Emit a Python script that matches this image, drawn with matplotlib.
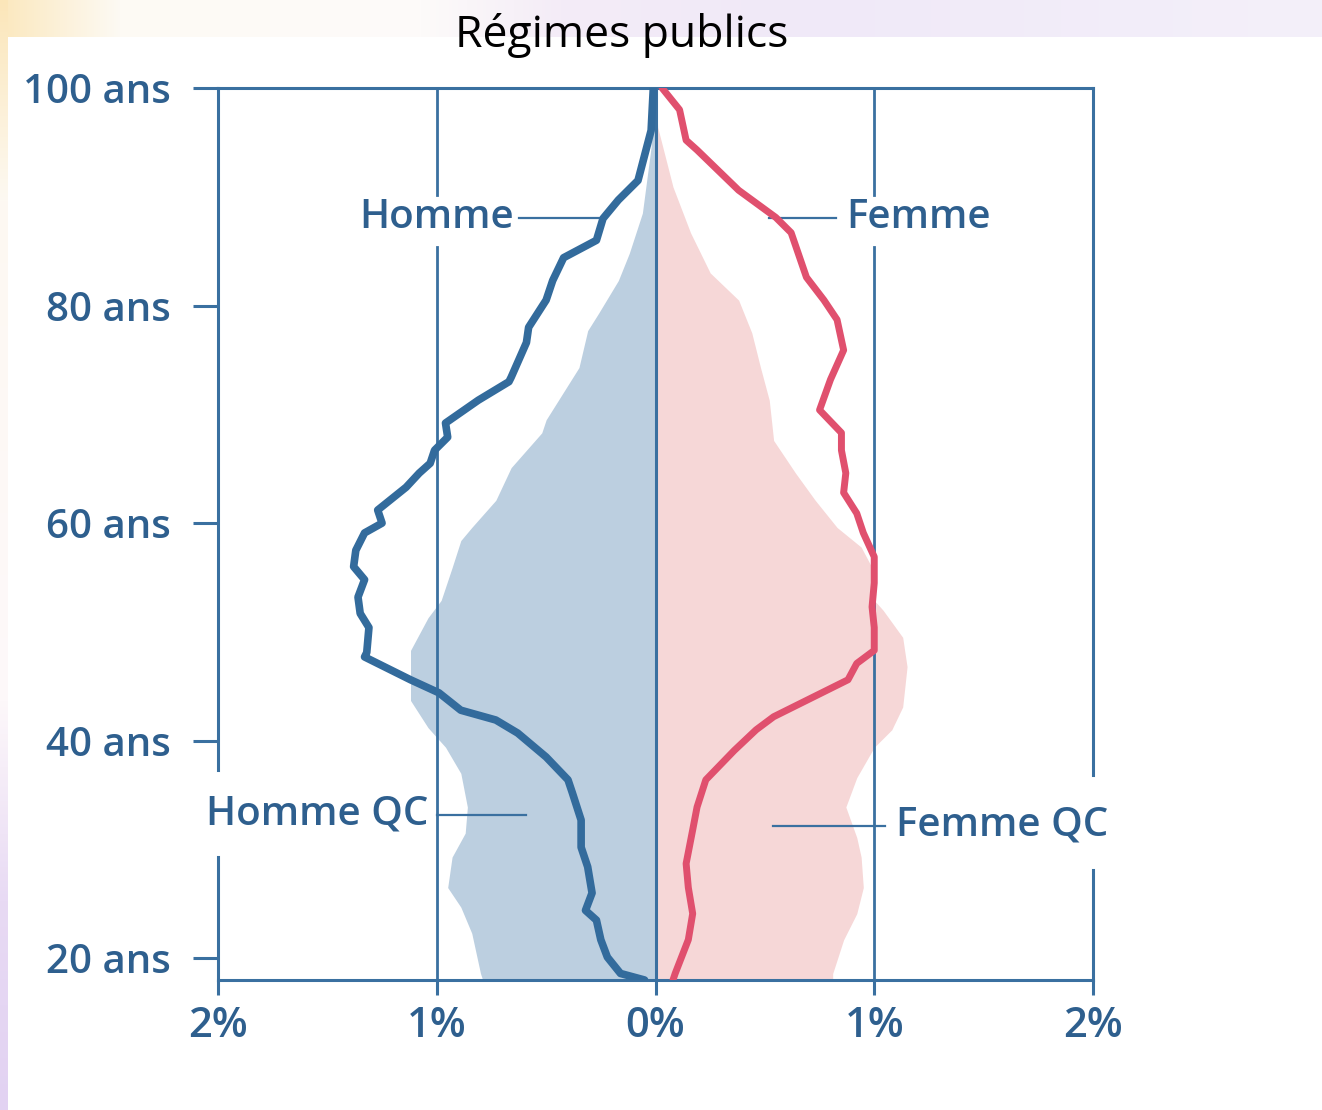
import matplotlib
matplotlib.use("Agg")
import matplotlib.pyplot as plt
import numpy as np

# courbes (lignes) : âge vs % de la population
ages_homme = [100, 96.1, 91.5, 89.7, 88.0, 86.0, 84.4, 82.3, 80.5, 78.0, 76.6,
              73.4, 73.0, 71.3, 69.2, 67.9, 66.7, 65.5, 64.6, 63.3, 61.2, 60.0,
              59.1, 57.5, 56.0, 54.8, 53.2, 51.7, 50.4, 48.1, 47.7, 45.6, 44.4,
              42.8, 41.9, 40.7, 38.5, 36.4, 35.2, 32.7, 30.2, 28.4, 26.0, 24.4,
              23.5, 21.7, 20.1, 18.6, 18.0]
pct_homme = [0.01, 0.02, 0.08, 0.17, 0.24, 0.27, 0.42, 0.47, 0.50, 0.58, 0.59,
             0.66, 0.67, 0.81, 0.96, 0.95, 1.01, 1.03, 1.08, 1.14, 1.27, 1.25,
             1.33, 1.37, 1.38, 1.33, 1.36, 1.35, 1.31, 1.32, 1.33, 1.12, 0.99,
             0.89, 0.73, 0.63, 0.50, 0.40, 0.38, 0.34, 0.34, 0.31, 0.29, 0.32,
             0.27, 0.25, 0.22, 0.16, 0.05]

ages_femme = [100, 98.0, 95.2, 94.3, 90.6, 88.1, 86.7, 82.6, 80.5, 78.7, 75.9,
              73.2, 70.4, 68.3, 66.7, 64.6, 62.8, 60.9, 59.1, 56.9, 54.5, 52.3,
              50.4, 48.3, 47.1, 45.6, 43.7, 42.2, 41.0, 39.1, 36.4, 33.9, 31.8,
              28.7, 26.5, 24.1, 21.7, 18.6, 18.0]
pct_femme = [0.03, 0.11, 0.14, 0.19, 0.38, 0.55, 0.62, 0.69, 0.77, 0.83, 0.86,
             0.80, 0.75, 0.85, 0.85, 0.87, 0.86, 0.92, 0.95, 1.00, 1.00, 0.99,
             1.00, 1.00, 0.92, 0.88, 0.69, 0.54, 0.46, 0.36, 0.23, 0.19, 0.17,
             0.14, 0.15, 0.17, 0.15, 0.09, 0.08]

# population du Québec (aires)
ages_hqc = [100, 96.4, 94.6, 88.5, 84.8, 82.3, 79.3, 77.7, 74.3, 69.5, 68.3,
            65.1, 62.1, 59.6, 58.4, 55.9, 52.9, 51.3, 48.3, 43.7, 41.2, 39.4,
            37.0, 33.9, 31.5, 29.3, 26.5, 24.7, 22.3, 18.6, 18.0]
pct_hqc = [0.0, 0.02, 0.02, 0.06, 0.12, 0.17, 0.26, 0.31, 0.35, 0.50, 0.52,
           0.66, 0.73, 0.84, 0.89, 0.93, 0.98, 1.04, 1.12, 1.12, 1.04, 0.96,
           0.89, 0.86, 0.87, 0.93, 0.95, 0.89, 0.84, 0.80, 0.79]

ages_fqc = [100, 96.4, 90.9, 86.7, 83.0, 80.5, 77.5, 74.3, 71.3, 67.6, 64.6,
            62.1, 59.6, 57.8, 55.9, 52.9, 52.0, 49.5, 46.8, 43.1, 41.0, 39.4,
            36.6, 33.9, 31.1, 29.3, 26.5, 24.1, 21.7, 18.6, 18.0]
pct_fqc = [0.0, 0.01, 0.08, 0.16, 0.25, 0.38, 0.44, 0.48, 0.52, 0.54, 0.64,
           0.73, 0.83, 0.94, 0.99, 1.00, 1.04, 1.13, 1.15, 1.13, 1.08, 1.00,
           0.92, 0.87, 0.92, 0.94, 0.95, 0.92, 0.86, 0.81, 0.81]

age_ticks = [20, 40, 60, 80, 100]
age_labels = ["20 ans", "40 ans", "60 ans", "80 ans", "100 ans"]
pct_ticks = [-2, -1, 0, 1, 2]
pct_labels = ["2%", "1%", "0%", "1%", "2%"]

BLUE = "#3a70a0"
TXT = "#2e5f8e"
FONT = "Open Sans"

fig = plt.figure(figsize=(13.22, 11.10), dpi=100)

# fond de diapo (bandes colorées en haut et à gauche)
H, W = 1110, 1322
bg = np.ones((H, W, 3))
xs = [0, 120, 420, 560, 800, 1322]
top_cols = np.array([(251, 232, 190), (253, 250, 244), (253, 251, 250),
                     (244, 236, 247), (240, 233, 248), (244, 240, 250)]) / 255
for c in range(3):
    bg[:37, :, c] = np.interp(np.arange(W), xs, top_cols[:, c])
ys = [0, 200, 700, 900, 1110]
left_cols = np.array([(251, 230, 185), (253, 249, 242), (253, 248, 250),
                      (232, 218, 244), (226, 210, 242)]) / 255
for c in range(3):
    bg[:, :8, c] = np.interp(np.arange(H), ys, left_cols[:, c])[:, None]
bax = fig.add_axes([0, 0, 1, 1], zorder=-1)
bax.imshow(bg, aspect="auto")
bax.axis("off")

ax = fig.add_axes([218 / 1322, 1 - 980 / 1110, 875 / 1322, 892 / 1110])
ax.set_facecolor("none")
ax.set_xlim(-2, 2)
ax.set_ylim(18, 100)

# aires QC
ax.fill_betweenx(ages_hqc, 0, -np.array(pct_hqc), color="#bccfe0", lw=0, zorder=1)
ax.fill_betweenx(ages_fqc, 0, np.array(pct_fqc), color="#f6d7d7", lw=0, zorder=1)

# lignes de grille (avec coupures pour les étiquettes)
ax.axvline(0, color=BLUE, lw=2.2, zorder=2)
for xg in (-1, 1):
    ax.plot([xg, xg], [18, 85.4], color=BLUE, lw=2.0, zorder=2)
    ax.plot([xg, xg], [90.2, 100], color=BLUE, lw=2.0, zorder=2)

# cadre (côtés coupés à hauteur des étiquettes QC)
for s in ("left", "right"):
    ax.spines[s].set_visible(False)
for s in ("top", "bottom"):
    ax.spines[s].set_color(BLUE)
    ax.spines[s].set_linewidth(2.2)
ax.plot([-2, -2], [18, 29.3], color=BLUE, lw=2.2, clip_on=False, zorder=2)
ax.plot([-2, -2], [37.3, 100], color=BLUE, lw=2.2, clip_on=False, zorder=2)
ax.plot([2, 2], [18, 28.1], color=BLUE, lw=2.2, clip_on=False, zorder=2)
ax.plot([2, 2], [36.8, 100], color=BLUE, lw=2.2, clip_on=False, zorder=2)

# courbes régimes publics
ax.plot(-np.array(pct_homme), ages_homme, color="#336b9c", lw=5.5,
        solid_joinstyle="round", solid_capstyle="round", zorder=3)
ax.plot(pct_femme, ages_femme, color="#e0506e", lw=5.0,
        solid_joinstyle="round", solid_capstyle="round", zorder=3)

# étiquettes avec traits de rappel
lab = dict(color=TXT, fontsize=29, fontweight="semibold", family=FONT, va="center")
ax.plot([-0.626, -0.238], [88.05, 88.05], color=BLUE, lw=1.6, zorder=2)
ax.text(-0.645, 88.05, "Homme", ha="right", **lab)
ax.plot([0.517, 0.827], [88.05, 88.05], color=BLUE, lw=1.6, zorder=2)
ax.text(0.87, 88.05, "Femme", ha="left", **lab)
ax.plot([-1.0, -0.594], [33.2, 33.2], color=BLUE, lw=1.6, zorder=2)
ax.text(-1.04, 33.2, "Homme QC", ha="right", **lab)
ax.plot([0.539, 1.05], [32.2, 32.2], color=BLUE, lw=1.6, zorder=2)
ax.text(1.1, 32.2, "Femme QC", ha="left", **lab)

ax.set_yticks(age_ticks)
ax.set_yticklabels(age_labels)
ax.set_xticks(pct_ticks)
ax.set_xticklabels(pct_labels)
ax.tick_params(axis="y", length=18, width=2.2, color=BLUE, pad=16,
               labelsize=29, labelcolor=TXT)
ax.tick_params(axis="x", length=11, width=2.2, color=BLUE, pad=7,
               labelsize=30, labelcolor=TXT)
for t in ax.get_xticklabels() + ax.get_yticklabels():
    t.set_family(FONT)
    t.set_fontweight("semibold")

fig.text(622 / 1322, 1 - 35 / 1110, "Régimes publics", ha="center", va="center",
         fontsize=32, family=FONT, color="black")

fig.savefig("out.png", dpi=100)
